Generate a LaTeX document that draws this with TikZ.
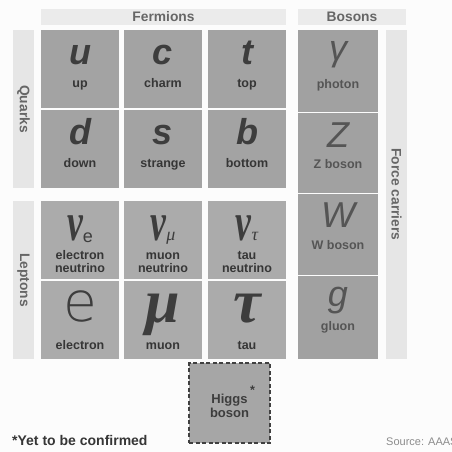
\documentclass[tikz,border=0pt]{standalone}
\usepackage{fontspec}
\setmainfont{Liberation Sans}
\newfontfamily\serifgr{Liberation Serif}
\newfontfamily\efont{DejaVu Sans ExtraLight}
\usetikzlibrary{calc}
\definecolor{bgc}{HTML}{FCFCFC}
\definecolor{barc}{HTML}{E6E6E6}
\definecolor{headc}{HTML}{EBEBEB}
\definecolor{cq}{HTML}{A3A3A3}
\definecolor{cl}{HTML}{ABABAB}
\definecolor{cb}{HTML}{A1A1A1}
\definecolor{ch}{HTML}{A6A6A6}
\definecolor{dark}{HTML}{3D3D3D}
\definecolor{lblc}{HTML}{363636}
\definecolor{bosc}{HTML}{555555}
\definecolor{bart}{HTML}{666666}
\definecolor{srcc}{HTML}{8C8C8C}
\definecolor{dashc}{HTML}{404040}
\newcommand\cellbox[6]{\node[box, fill=#6, minimum width=#4pt, minimum height=#5pt] (#1) at (#2,#3) {};}
\begin{document}
\begin{tikzpicture}[x=1pt,y=-1pt,
  box/.style={inner sep=0pt, outer sep=0pt, anchor=north west, draw=none},
  qsym/.style={anchor=base, inner sep=0pt, text=dark, font=\fontsize{36}{36}\selectfont\bfseries\itshape},
  gsym/.style={anchor=base, inner sep=0pt, text=dark, font=\fontsize{62}{62}\selectfont\serifgr\bfseries\itshape},
  nusym/.style={anchor=base, inner sep=0pt, text=dark, font=\fontsize{54}{54}\selectfont\serifgr\bfseries\itshape},
  bsym/.style={anchor=base, inner sep=0pt, text=bosc, font=\fontsize{36}{36}\selectfont\itshape},
  lbl/.style={anchor=base, inner sep=0pt, text=lblc, align=center, font=\fontsize{12.5}{13}\selectfont\bfseries},
  blbl/.style={lbl, text=bosc},
  barlbl/.style={inner sep=0pt, text=bart, font=\fontsize{13.8}{14}\selectfont\bfseries},
  headlbl/.style={inner sep=0pt, text=bart, font=\fontsize{13.8}{14}\selectfont\bfseries}
]
\useasboundingbox (0,0) rectangle (452,452);
\fill[bgc] (0,0) rectangle (452,452);

% header bars
\cellbox{fermbar}{41}{9}{245}{16}{headc}
\cellbox{bosbar}{298}{9}{108}{16}{headc}
\node[headlbl] (fermt) at (fermbar.center) {Fermions};
\node[headlbl] (bost) at (bosbar.center) {Bosons};

% side bars
\cellbox{qbar}{13}{30}{21}{158}{barc}
\cellbox{lbar}{13}{201}{21}{158}{barc}
\cellbox{fbar}{386}{30}{21}{329}{barc}
\node[barlbl, rotate=-90] (qt) at (qbar.center) {Quarks};
\node[barlbl, rotate=-90] (lt) at (lbar.center) {Leptons};
\node[barlbl, rotate=-90] (ft) at (fbar.center) {Force carriers};

% quark cells
\cellbox{cu}{41}{30}{78}{78}{cq}
\cellbox{cc}{124}{30}{78}{78}{cq}
\cellbox{ct}{208}{30}{78}{78}{cq}
\cellbox{cd}{41}{110}{78}{78}{cq}
\cellbox{cs}{124}{110}{78}{78}{cq}
\cellbox{cbb}{208}{110}{78}{78}{cq}
% lepton cells
\cellbox{cne}{41}{201}{78}{78}{cl}
\cellbox{cnm}{124}{201}{78}{78}{cl}
\cellbox{cnt}{208}{201}{78}{78}{cl}
\cellbox{ce}{41}{281}{78}{78}{cl}
\cellbox{cm}{124}{281}{78}{78}{cl}
\cellbox{cta}{208}{281}{78}{78}{cl}
% boson cells
\cellbox{cg}{298}{30}{80}{82}{cb}
\cellbox{cz}{298}{113}{80}{80}{cb}
\cellbox{cw}{298}{194}{80}{81}{cb}
\cellbox{cgl}{298}{276}{80}{83}{cb}

% quark texts
\node[qsym] (su) at ($(cu.north)+(0,34)$) {u};
\node[lbl] (lu) at ($(cu.north)+(0,57)$) {up};
\node[qsym] (sc) at ($(cc.north)+(0,34)$) {c};
\node[lbl] (lc) at ($(cc.north)+(0,57)$) {charm};
\node[qsym] (st) at ($(ct.north)+(0,34)$) {t};
\node[lbl] (lt2) at ($(ct.north)+(0,57)$) {top};
\node[qsym] (sd) at ($(cd.north)+(0,34)$) {d};
\node[lbl] (ld) at ($(cd.north)+(0,57)$) {down};
\node[qsym] (ss) at ($(cs.north)+(0,34)$) {s};
\node[lbl] (ls) at ($(cs.north)+(0,57)$) {strange};
\node[qsym] (sb) at ($(cbb.north)+(0,34)$) {b};
\node[lbl] (lb) at ($(cbb.north)+(0,57)$) {bottom};

% neutrinos
\node[nusym] (sne) at ($(cne.north)+(0,39)$) {\scalebox{0.66}[1]{ν}\raisebox{-2pt}{\fontsize{18}{18}\selectfont\mdseries\upshape\rmfamily e}};
\node[lbl] (lne) at ($(cne.north)+(0,71)$) {electron\\neutrino};
\node[nusym] (snm) at ($(cnm.north)+(0,39)$) {\scalebox{0.66}[1]{ν}{\fontsize{18}{18}\selectfont\mdseries μ}};
\node[lbl] (lnm) at ($(cnm.north)+(0,71)$) {muon\\neutrino};
\node[nusym] (snt) at ($(cnt.north)+(0,39)$) {\scalebox{0.66}[1]{ν}{\fontsize{18}{18}\selectfont\mdseries τ}};
\node[lbl] (lnt) at ($(cnt.north)+(0,71)$) {tau\\neutrino};

% charged leptons
\node[anchor=base, inner sep=0pt, text=dark, font=\fontsize{55}{55}\selectfont\efont] (se) at ($(ce.north)+(0,40)$) {e};
\node[lbl] (le) at ($(ce.north)+(0,68)$) {electron};
\node[gsym] (sm) at ($(cm.north)+(0,41)$) {μ};
\node[lbl] (lm) at ($(cm.north)+(0,68)$) {muon};
\node[gsym] (sta) at ($(cta.north)+(0,41)$) {τ};
\node[lbl] (lta) at ($(cta.north)+(0,68)$) {tau};

% bosons
\node[bsym] (sg) at ($(cg.north)+(0,30)$) {γ};
\node[blbl] (lg) at ($(cg.north)+(0,58)$) {photon};
\node[bsym] (sz) at ($(cz.north)+(0,34)$) {Z};
\node[blbl] (lz) at ($(cz.north)+(0,55)$) {Z boson};
\node[bsym] (sw) at ($(cw.north)+(0,33)$) {W};
\node[blbl] (lw) at ($(cw.north)+(0,55)$) {W boson};
\node[bsym] (sgl) at ($(cgl.north)+(0,30)$) {g};
\node[blbl] (lgl) at ($(cgl.north)+(0,54)$) {gluon};

% Higgs
\node[box, fill=ch, draw=dashc, line width=1.3pt, dash pattern=on 4pt off 2.5pt, minimum width=81pt, minimum height=80pt] (higgs) at (189,363) {};
\node[lbl, text=dark, font=\fontsize{13}{14}\selectfont\bfseries] (lh) at ($(higgs.north)+(0,54)$) {Higgs\\boson};
\node[anchor=base, inner sep=0pt, text=dark, font=\fontsize{12.5}{12.5}\selectfont\bfseries] (hstar) at ($(higgs.north)+(23,31)$) {*};

% footnotes
\node[anchor=base west, inner sep=0pt, text=lblc, font=\fontsize{14}{14}\selectfont\bfseries] (note) at (12,445) {*Yet to be confirmed};
\node[anchor=base west, inner sep=0pt, text=srcc, font=\fontsize{11}{11}\selectfont] (src) at (386,445) {Source: AAAS};
\end{tikzpicture}
\end{document}
